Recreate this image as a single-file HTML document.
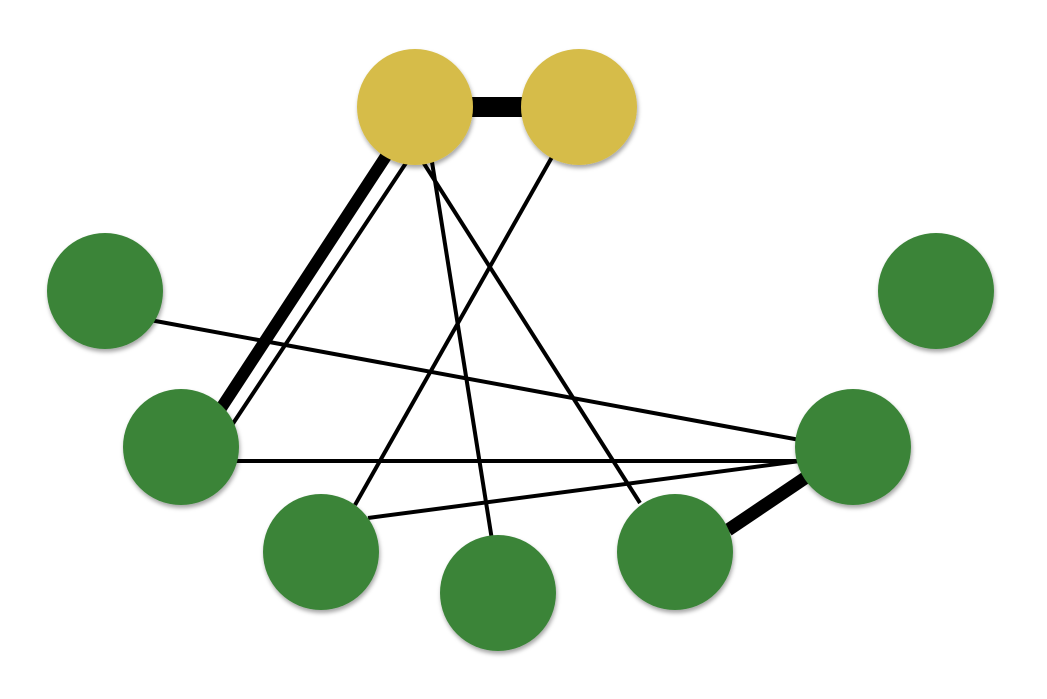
<!DOCTYPE html>
<html><head><meta charset="utf-8"><style>html,body{margin:0;padding:0;background:#fff;width:1047px;height:699px;overflow:hidden}</style></head>
<body>
<svg width="1047" height="699" viewBox="0 0 1047 699" xmlns="http://www.w3.org/2000/svg">
<defs>
<filter id="s" x="-20%" y="-20%" width="140%" height="140%">
<feDropShadow dx="1" dy="3" stdDeviation="2" flood-color="#000" flood-opacity="0.35"/>
</filter>
</defs>
<g stroke="#000" stroke-linecap="butt">
<line x1="415" y1="107" x2="579" y2="107" stroke-width="20"/>
<line x1="390" y1="150" x2="212" y2="422" stroke-width="12"/>
<line x1="408" y1="160" x2="232" y2="425" stroke-width="4"/>
<line x1="432" y1="162" x2="492" y2="540" stroke-width="4"/>
<line x1="423" y1="162" x2="640" y2="503" stroke-width="4"/>
<line x1="552" y1="157" x2="355" y2="505" stroke-width="4"/>
<line x1="150" y1="320" x2="800" y2="440" stroke-width="4"/>
<line x1="236" y1="461" x2="800" y2="461" stroke-width="4"/>
<line x1="368" y1="518" x2="800" y2="461" stroke-width="4"/>
<line x1="728" y1="530" x2="808" y2="476" stroke-width="13"/>
</g>
<g filter="url(#s)">
<circle cx="415" cy="107" r="58" fill="#d6bc48"/>
<circle cx="579" cy="107" r="58" fill="#d6bc48"/>
<circle cx="105" cy="291" r="58" fill="#3b8439"/>
<circle cx="936" cy="291" r="58" fill="#3b8439"/>
<circle cx="181" cy="447" r="58" fill="#3b8439"/>
<circle cx="853" cy="447" r="58" fill="#3b8439"/>
<circle cx="321" cy="552" r="58" fill="#3b8439"/>
<circle cx="498" cy="593" r="58" fill="#3b8439"/>
<circle cx="675" cy="552" r="58" fill="#3b8439"/>
</g>
</svg>
</body></html>
